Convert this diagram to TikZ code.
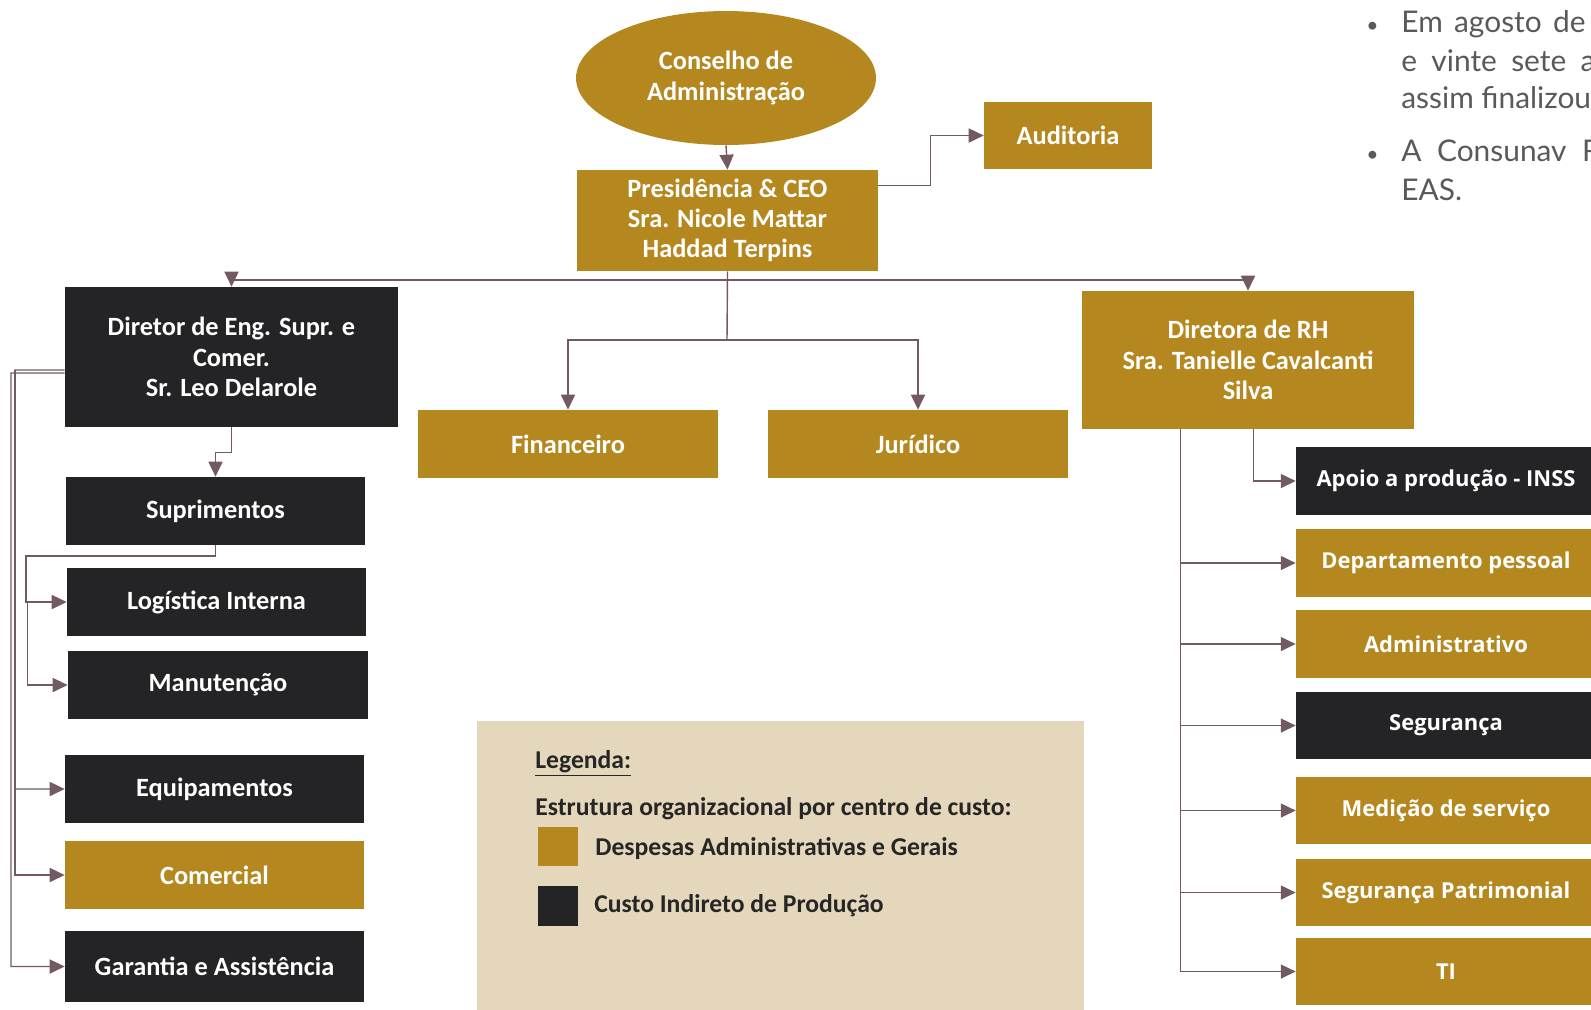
\documentclass[tikz,border=0pt]{standalone}
\usepackage{fontspec}
\setmainfont{Carlito}
\newfontfamily\colfont{Open Sans}
\newfontfamily\bulfont{Lato}
\usetikzlibrary{shapes.geometric,arrows.meta}
\definecolor{ouro}{HTML}{B4881F}
\definecolor{escuro}{HTML}{242426}
\definecolor{linha}{HTML}{725A63}
\definecolor{bege}{HTML}{E4D7BB}
\definecolor{cinza}{HTML}{595959}
\definecolor{legtxt}{HTML}{262626}

\begin{document}
\begin{tikzpicture}[x=0.02cm,y=-0.02cm,
  block/.style={rectangle,text=white,align=center,inner sep=0pt,font=\bfseries\fontsize{15}{17.2}\selectfont},
  ouroblock/.style={block,fill=ouro},
  escblock/.style={block,fill=escuro},
  colblock/.style={rectangle,text=white,inner sep=0pt,minimum width=6cm,minimum height=1.35cm,font=\colfont\bfseries\fontsize{12.5}{15}\selectfont},
  legtext/.style={anchor=west,inner sep=0pt,text=legtxt,font=\bfseries\fontsize{14.6}{17}\selectfont},
  bultext/.style={anchor=mid west,inner sep=0pt,text=cinza,font=\bulfont\fontsize{17}{19}\selectfont},
  trunk/.style={draw=linha,line width=0.8pt},
  conn/.style={trunk,-{Triangle[length=8.5pt,width=8pt]}}]
\useasboundingbox (0,0) rectangle (1591,1009);

% legenda (fundo)
\node[rectangle,fill=bege,minimum width=12.14cm,minimum height=5.9cm,inner sep=0pt] (leg) at (780.5,868) {};

\path
(726,78) node [ellipse,fill=ouro,text=white,align=center,minimum width=6cm,minimum height=2.68cm,font=\bfseries\fontsize{15}{17.2}\selectfont] (cons) {Conselho de\\Administração}
(727.5,220.5) node [ouroblock,minimum width=6.02cm,minimum height=2.02cm] (pres) {Presidência \& CEO\\Sra. Nicole Mattar\\Haddad Terpins}
(1068,135.5) node [ouroblock,minimum width=3.36cm,minimum height=1.34cm] (aud) {Auditoria}
(231.5,357) node [escblock,minimum width=6.66cm,minimum height=2.8cm] (dir) {Diretor de Eng. Supr. e\\Comer.\\Sr. Leo Delarole}
(568,444) node [ouroblock,minimum width=6cm,minimum height=1.36cm] (fin) {Financeiro}
(918,444) node [ouroblock,minimum width=6cm,minimum height=1.36cm] (jur) {Jurídico}
(1248,360) node [ouroblock,minimum width=6.64cm,minimum height=2.76cm] (rh) {Diretora de RH\\Sra. Tanielle Cavalcanti\\Silva}
;

\path
(215.5,511) node [escblock,minimum width=5.98cm,minimum height=1.36cm] (sup) {Suprimentos}
(216.5,602) node [escblock,minimum width=5.98cm,minimum height=1.36cm] (log) {Logística Interna}
(218,685) node [escblock,minimum width=6cm,minimum height=1.36cm] (man) {Manutenção}
(214.5,789) node [escblock,minimum width=5.98cm,minimum height=1.36cm] (equ) {Equipamentos}
(214.5,875) node [ouroblock,minimum width=5.98cm,minimum height=1.36cm] (com) {Comercial}
(214.5,966.5) node [escblock,minimum width=5.98cm,minimum height=1.42cm] (gar) {Garantia e Assistência}
;

\path
(1446,481) node [colblock,fill=escuro] (apo) {Apoio a produção - INSS}
(1446,563) node [colblock,fill=ouro] (dp) {Departamento pessoal}
(1446,644) node [colblock,fill=ouro] (adm) {Administrativo}
(1446,725.5) node [colblock,fill=escuro] (seg) {Segurança}
(1446,810.5) node [colblock,fill=ouro] (med) {Medição de serviço}
(1446,892.5) node [colblock,fill=ouro] (pat) {Segurança Patrimonial}
(1446,971.5) node [colblock,fill=ouro] (ti) {TI}
;

% ligacoes
\coordinate (bus) at (727,280);
\coordinate (mid) at (727,340);
\coordinate (lbus) at (26,556);
\coordinate (dl) at (15,370);
\coordinate (dl2) at (11,373);
\draw[conn] (cons.south) -- (pres.north);
\draw[conn] ([yshift=-0.32cm]pres.north east) -- ++(52,0) |- (aud.west);
\draw[trunk] (pres.south) -- (mid);
\draw[conn] (bus) -| (dir.north);
\draw[conn] (bus) -| (rh.north);
\draw[conn] (mid) -| (fin.north);
\draw[conn] (mid) -| (jur.north);

\draw[conn] (dir.south) -- ++(0,25) -| (sup.north);
\draw[conn] (sup.south) |- (lbus) |- (log.west);
\draw[conn] ([xshift=0.03cm]lbus |- log.west) |- (man.west);
\draw[conn] ([yshift=-0.26cm]dir.west) -- (dl) |- (equ.west);
\draw[conn] (dl) |- (com.west);
\draw[conn] ([yshift=-0.32cm]dir.west) -- (dl2) |- (gar.west);

\coordinate (rht) at ([xshift=1.98cm]rh.south west);
\draw[conn] ([xshift=3.44cm]rh.south west) |- (apo.west);
\foreach \n in {dp,adm,seg,med,pat,ti}
  \draw[conn] (rht) |- (\n.west);

% legenda
\path
(535,763) node [legtext] (lgd) {\underline{Legenda:}}
(535,809) node [legtext] (est) {Estrutura organizacional por centro de custo:}
(558,846.5) node [rectangle,fill=ouro,minimum width=0.8cm,minimum height=0.78cm,inner sep=0pt] (qouro) {}
(595,848) node [legtext] (desp) {Despesas Administrativas e Gerais}
(558,906) node [rectangle,fill=escuro,minimum width=0.8cm,minimum height=0.8cm,inner sep=0pt] (qesc) {}
(594,906) node [legtext] (cip) {Custo Indireto de Produção}
;

% texto lateral
\path
(1366,28) node [bultext,font=\bulfont\fontsize{12}{14}\selectfont] (b1) {•}
(1401,28) node [bultext] (t1) {\spaceskip=0.38em Em agosto de}
(1401,67) node [bultext] (t2) {\spaceskip=0.48em e vinte sete a}
(1401,104) node [bultext] (t3) {assim finalizou}
(1366,157) node [bultext,font=\bulfont\fontsize{12}{14}\selectfont] (b2) {•}
(1401,157) node [bultext] (t4) {\spaceskip=0.52em A Consunav R}
(1401,196) node [bultext] (t5) {EAS.}
;
\end{tikzpicture}
\end{document}
